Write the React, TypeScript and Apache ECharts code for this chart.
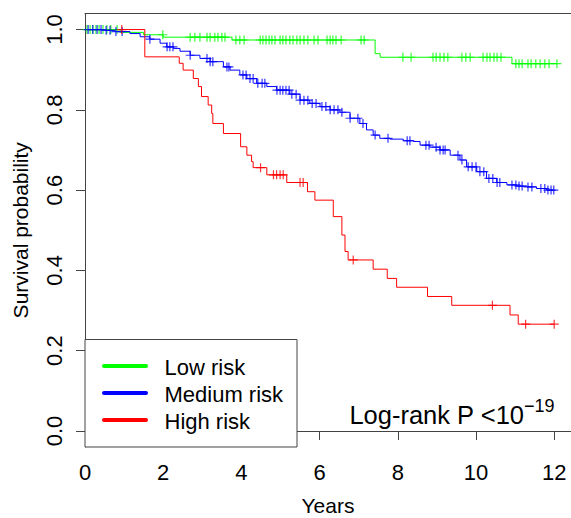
import React, { useEffect, useRef } from "react";
import * as echarts from "echarts";

// ---- data ----
const groupNames = ["Low risk", "Medium risk", "High risk"];
const groupColors = ["#00ff00", "#0000ff", "#ff0000"];
const xTicks = [0, 2, 4, 6, 8, 10, 12];
const yTicks = [0, 0.2, 0.4, 0.6, 0.8, 1.0];

const lowTimes = [0, 0.9, 1.5, 2.0, 3.76, 7.42, 7.55, 10.92];
const lowSurv = [1.0, 0.993, 0.987, 0.981, 0.974, 0.94, 0.931, 0.915];
const lowEnd = 12.07;
const lowCensor = [
  0.05, 0.13, 0.2, 0.28, 0.36, 0.46, 0.56, 0.66, 0.82, 1.99, 2.69, 2.81, 2.94, 3.12, 3.2, 3.32, 3.4, 3.5,
  3.58, 3.86, 3.96, 4.07, 4.48, 4.55, 4.63, 4.71, 4.78, 4.86, 4.99, 5.06, 5.14, 5.24, 5.32, 5.42, 5.5,
  5.6, 5.7, 5.86, 5.96, 6.19, 6.27, 6.34, 6.42, 6.55, 7.06, 7.14, 8.13, 8.34, 8.9, 8.98, 9.08, 9.18,
  9.28, 9.64, 9.74, 9.85, 10.18, 10.28, 10.36, 10.46, 10.54, 10.64, 11.02, 11.1, 11.18, 11.33, 11.41,
  11.53, 11.64, 11.76, 11.87, 12.07,
];

const mediumTimes = [
  0, 0.51, 0.77, 1.15, 1.41, 1.66, 1.92, 2.09, 2.26, 2.43, 2.69, 2.94, 3.2, 3.54, 3.71, 3.96, 4.14, 4.39,
  4.65, 4.9, 5.24, 5.5, 5.75, 6.01, 6.27, 6.52, 6.78, 7.03, 7.2, 7.37, 7.54, 7.8, 8.14, 8.4, 8.57, 8.82,
  9.08, 9.34, 9.59, 9.76, 10.02, 10.27, 10.53, 10.79, 11.04, 11.3, 11.55, 11.81,
];
const mediumSurv = [
  1.0, 0.998, 0.995, 0.99, 0.982, 0.976, 0.966, 0.957, 0.953, 0.946, 0.936, 0.928, 0.92, 0.907, 0.899,
  0.887, 0.878, 0.866, 0.858, 0.849, 0.839, 0.824, 0.816, 0.808, 0.8, 0.794, 0.779, 0.766, 0.75, 0.737,
  0.729, 0.727, 0.723, 0.721, 0.712, 0.707, 0.7, 0.687, 0.675, 0.658, 0.646, 0.629, 0.619, 0.613, 0.61,
  0.608, 0.604, 0.6,
];
const mediumEnd = 12.0;
const mediumCensor = [
  0.08, 0.2, 0.31, 0.41, 0.54, 0.64, 0.79, 0.95, 1.66, 2.1, 2.17, 2.25, 2.69, 3.12, 3.2, 3.27, 3.63, 3.68,
  4.04, 4.12, 4.22, 4.3, 4.42, 4.53, 4.6, 4.91, 4.99, 5.06, 5.14, 5.22, 5.29, 5.4, 5.5, 5.6, 5.7, 5.81,
  5.91, 6.06, 6.16, 6.27, 6.37, 6.47, 6.57, 6.78, 6.98, 7.11, 7.42, 7.75, 8.24, 8.31, 8.72, 8.8, 8.98,
  9.08, 9.16, 9.21, 9.54, 9.64, 9.8, 9.9, 10.0, 10.1, 10.2, 10.33, 10.43, 10.54, 10.61, 10.92, 11.02,
  11.1, 11.18, 11.33, 11.43, 11.66, 11.76, 11.84, 11.92, 11.99,
];

const highTimes = [
  0, 1.53, 2.41, 2.51, 2.77, 2.9, 2.98, 3.15, 3.24, 3.27, 3.54, 3.98, 4.14, 4.26, 4.3, 4.65, 5.16, 5.69,
  5.88, 6.35, 6.57, 6.65, 6.73, 7.37, 7.73, 7.97, 8.76, 9.38, 10.87, 11.08,
];
const highSurv = [
  1.0, 0.932, 0.916, 0.899, 0.878, 0.858, 0.833, 0.812, 0.791, 0.766, 0.741, 0.708, 0.687, 0.671, 0.656,
  0.638, 0.619, 0.596, 0.575, 0.534, 0.488, 0.447, 0.426, 0.403, 0.38, 0.358, 0.335, 0.313, 0.289, 0.266,
];
const highEnd = 12.0;
const highCensor = [0.94, 4.49, 4.82, 4.9, 4.99, 5.07, 5.5, 5.58, 6.86, 10.42, 11.27, 12.0];

const pValueText = "Log-rank P <10";
const pValueExp = "\u221219";

// ---- helpers ----
function survAt(times: number[], surv: number[], t: number) {
  let s = surv[0];
  for (let i = 0; i < times.length; i++) if (times[i] <= t) s = surv[i];
  return s;
}
function stepData(times: number[], surv: number[], end: number) {
  const d = times.map((t, i) => [t, surv[i]]);
  d.push([end, surv[surv.length - 1]]);
  return d;
}

const groups = [
  { times: lowTimes, surv: lowSurv, end: lowEnd, censor: lowCensor },
  { times: mediumTimes, surv: mediumSurv, end: mediumEnd, censor: mediumCensor },
  { times: highTimes, surv: highSurv, end: highEnd, censor: highCensor },
];

const FONT = "'Liberation Sans', Arial, Helvetica, sans-serif";
const AXIS_COLOR = "#444";

export default function App() {
  const ref = useRef<HTMLDivElement>(null);
  useEffect(() => {
    if (!ref.current) return;
    const chart = echarts.init(ref.current, null, { renderer: "svg" });
    const series: any[] = [];
    groups.forEach((g, i) => {
      series.push({
        name: groupNames[i],
        type: "line",
        step: "end",
        data: stepData(g.times, g.surv, g.end),
        showSymbol: false,
        lineStyle: { color: groupColors[i], width: 1 },
        silent: true,
        z: 2 + i,
      });
    });
    groups.forEach((g, i) => {
      series.push({
        name: groupNames[i] + " censored",
        type: "scatter",
        data: g.censor.map((t) => [t, survAt(g.times, g.surv, t)]),
        symbol: "path://M5,0L5,10M0,5L10,5",
        symbolSize: 9,
        itemStyle: { color: "none", borderColor: groupColors[i], borderWidth: 1.2 },
        silent: true,
        z: 5 + i,
      });
    });

    const legendTop = 366;
    const legendGap = 27;
    const legendEls: any[] = [
      {
        type: "rect",
        shape: { x: 85, y: 339.5, width: 212, height: 107.5 },
        style: { fill: "#fff", stroke: AXIS_COLOR, lineWidth: 1 },
        z: 10,
      },
    ];
    groupNames.forEach((n, i) => {
      const y = legendTop + i * legendGap;
      legendEls.push({
        type: "line",
        shape: { x1: 104, y1: y, x2: 146, y2: y },
        style: { stroke: groupColors[i], lineWidth: 4, lineCap: "round" },
        z: 11,
      });
      legendEls.push({
        type: "text",
        x: 164.5,
        y: y + 1,
        style: {
          text: n,
          font: `22px ${FONT}`,
          fill: "#000",
          textVerticalAlign: "middle",
          verticalAlign: "middle",
        },
        z: 11,
      });
    });
    legendEls.push({
      type: "text",
      x: 524,
      y: 414.5,
      style: {
        text: pValueText,
        font: `25.5px ${FONT}`,
        fill: "#000",
        align: "right",
        textAlign: "right",
        verticalAlign: "middle",
        textVerticalAlign: "middle",
      },
      z: 11,
    });
    legendEls.push({
      type: "text",
      x: 524,
      y: 406,
      style: {
        text: pValueExp,
        font: `18px ${FONT}`,
        fill: "#000",
        align: "left",
        textAlign: "left",
        verticalAlign: "middle",
        textVerticalAlign: "middle",
      },
      z: 11,
    });

    const xMax = 12.43;
    chart.setOption({
      animation: false,
      textStyle: { fontFamily: FONT },
      grid: { left: 85, right: 0, top: 13.5, bottom: 71, containLabel: false, outerBoundsMode: "none" },
      xAxis: [
        {
          type: "value",
          min: 0,
          max: xMax,
          position: "bottom",
          axisLine: { show: true, lineStyle: { color: AXIS_COLOR, width: 1 } },
          axisTick: { show: true, length: 9, customValues: xTicks, lineStyle: { color: AXIS_COLOR } },
          axisLabel: {
            customValues: xTicks,
            formatter: (v: number) => String(v),
            fontSize: 22,
            color: "#000",
            margin: 14,
            fontFamily: FONT,
          },
          splitLine: { show: false },
          name: "Years",
          nameLocation: "middle",
          nameGap: 48,
          nameTextStyle: { fontSize: 21, color: "#000", fontFamily: FONT },
        },
        {
          type: "value",
          min: 0,
          max: xMax,
          position: "top",
          axisLine: { show: true, lineStyle: { color: AXIS_COLOR, width: 1 } },
          axisTick: { show: false },
          axisLabel: { show: false },
          splitLine: { show: false },
        },
      ],
      yAxis: {
        type: "value",
        min: -0.04,
        max: 1.04,
        axisLine: { show: true, lineStyle: { color: AXIS_COLOR, width: 1 } },
        axisTick: { show: true, length: 9, customValues: yTicks, lineStyle: { color: AXIS_COLOR } },
        axisLabel: {
          customValues: yTicks,
          formatter: (v: number) => v.toFixed(1),
          rotate: 90,
          fontSize: 22,
          color: "#000",
          margin: 20,
          fontFamily: FONT,
        },
        splitLine: { show: false },
        name: "Survival probability",
        nameLocation: "middle",
        nameRotate: 90,
        nameGap: 54,
        nameTextStyle: { fontSize: 21, color: "#000", fontFamily: FONT },
      },
      series,
      graphic: legendEls,
    });
    return () => chart.dispose();
  }, []);
  return (
    <div
      ref={ref}
      style={{ position: "absolute", left: 0, top: 0, width: 571, height: 518, background: "#fff" }}
    />
  );
}
